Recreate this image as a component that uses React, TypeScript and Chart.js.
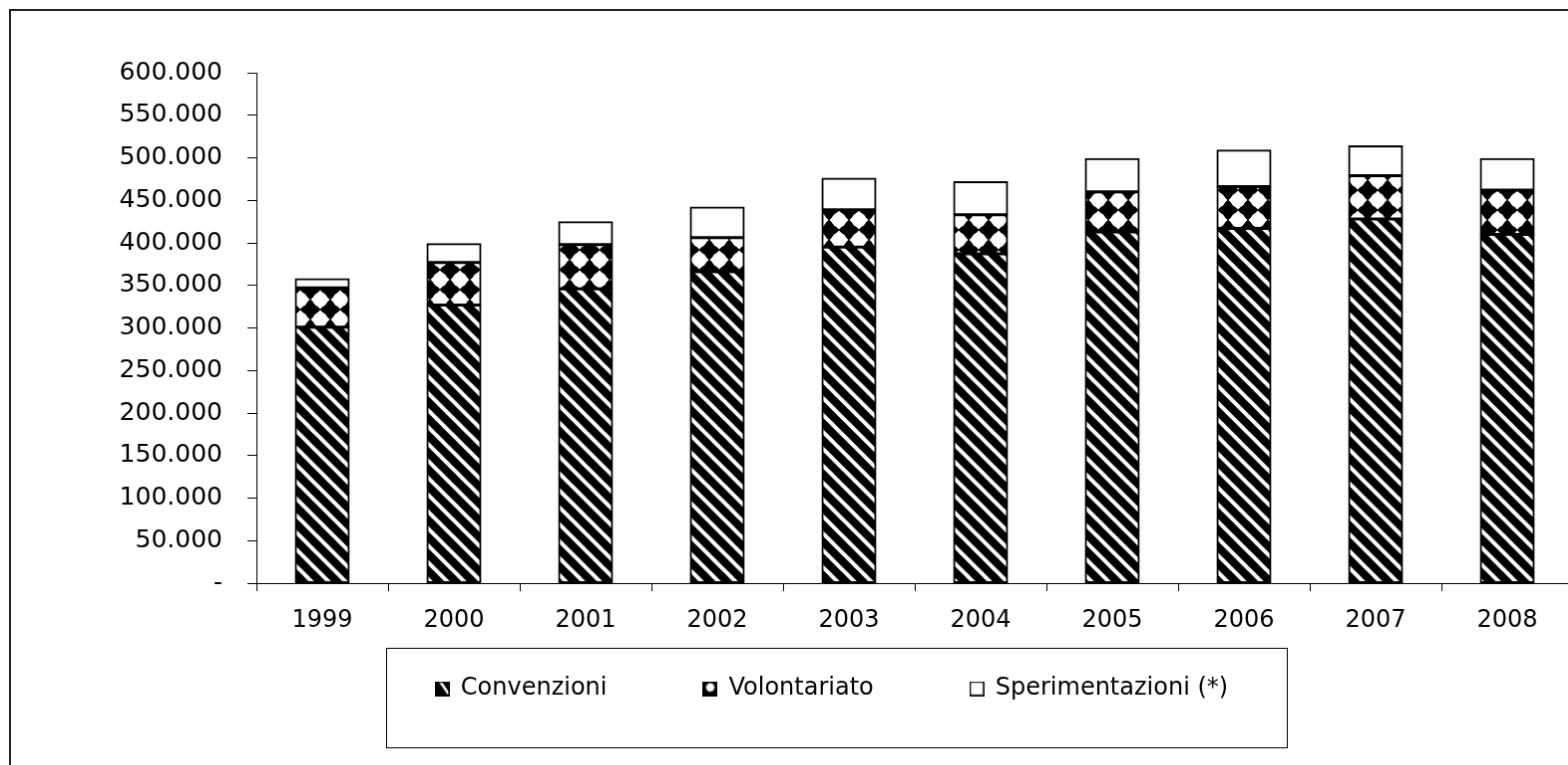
import React, { useEffect, useRef } from "react";
import { Chart, registerables } from "chart.js";

Chart.register(...registerables);

const years = ["1999", "2000", "2001", "2002", "2003", "2004", "2005", "2006", "2007", "2008"];
const convenzioni = [301000, 327000, 346000, 366000, 395000, 387000, 413000, 417000, 428000, 410000];
const volontariato = [46000, 50000, 52000, 40000, 44000, 46000, 47000, 49000, 51000, 52000];
const sperimentazioni = [11000, 22000, 27000, 36000, 37000, 39000, 39000, 43000, 35000, 37000];
const seriesNames = ["Convenzioni", "Volontariato", "Sperimentazioni (*)"];
const yMax = 600000;
const yStep = 50000;

function fmt(v: number): string {
  if (v === 0) return "-";
  return String(v).replace(/\B(?=(\d{3})+(?!\d))/g, ".");
}

function stripePattern(ctx: CanvasRenderingContext2D) {
  const s = 17;
  const c = document.createElement("canvas");
  c.width = s;
  c.height = s;
  const g = c.getContext("2d")!;
  g.fillStyle = "#000";
  g.fillRect(0, 0, s, s);
  g.strokeStyle = "#fff";
  g.lineWidth = 4;
  for (let k = -1; k <= 1; k++) {
    g.beginPath();
    g.moveTo(-2, k * s - 2);
    g.lineTo(s + 2, s + k * s + 2);
    g.stroke();
  }
  return ctx.createPattern(c, "repeat")!;
}

function diamondPattern(ctx: CanvasRenderingContext2D) {
  const s = 20;
  const c = document.createElement("canvas");
  c.width = s;
  c.height = s;
  const g = c.getContext("2d")!;
  g.fillStyle = "#000";
  g.fillRect(0, 0, s, s);
  g.fillStyle = "#fff";
  const cx = s / 2;
  const cy = s / 2;
  g.beginPath();
  g.arc(cx, cy, 7.3, 0, Math.PI * 2);
  g.fill();
  const d = 9.5;
  g.beginPath();
  g.moveTo(cx, cy - d);
  g.lineTo(cx + d, cy);
  g.lineTo(cx, cy + d);
  g.lineTo(cx - d, cy);
  g.closePath();
  g.fill();
  return ctx.createPattern(c, "repeat")!;
}

function makeSwatch(kind: number): HTMLCanvasElement {
  const n = 15;
  const c = document.createElement("canvas");
  c.width = n;
  c.height = n;
  const g = c.getContext("2d")!;
  if (kind === 0) {
    g.fillStyle = "#000";
    g.fillRect(0, 0, n, n);
    g.strokeStyle = "#fff";
    g.lineWidth = 2.5;
    g.beginPath();
    g.moveTo(5, 0);
    g.lineTo(14, 13);
    g.stroke();
  } else if (kind === 1) {
    g.fillStyle = "#000";
    g.fillRect(0, 0, n, n);
    g.fillStyle = "#fff";
    g.beginPath();
    g.arc(7.5, 6.3, 4.2, 0, Math.PI * 2);
    g.fill();
  } else {
    g.fillStyle = "#fff";
    g.fillRect(0, 0, n, n);
  }
  g.strokeStyle = "#000";
  g.lineWidth = 1.5;
  g.strokeRect(0.75, 0.75, n - 1.5, n - 1.5);
  return c;
}

const LEGEND_PAD = 97;
const LEGEND_FONT = 24;
const ITEM_CENTER = 681;
const BOX_TOP = 640;

const legendFramePlugin = {
  id: "legendFrame",
  afterLayout(chart: any) {
    const lg = chart.legend;
    if (!lg) return;
    const itemH = LEGEND_FONT;
    const newTop = ITEM_CENTER - LEGEND_PAD - itemH / 2;
    const h = lg.bottom - lg.top;
    lg.top = newTop;
    lg.bottom = newTop + h;
  },
  afterDraw(chart: any) {
    const ctx = chart.ctx;
    ctx.save();
    ctx.strokeStyle = "#000";
    ctx.lineWidth = 1;
    ctx.strokeRect(376.5, BOX_TOP + 0.5, 903, 100);
    ctx.restore();
  },
};

export default function App() {
  const ref = useRef<HTMLCanvasElement>(null);

  useEffect(() => {
    const canvas = ref.current!;
    const ctx = canvas.getContext("2d")!;
    Chart.defaults.font.family = "'DejaVu Sans', Verdana, sans-serif";
    Chart.defaults.color = "#000";
    const swatches = [makeSwatch(0), makeSwatch(1), makeSwatch(2)];
    const defaultGen = (Chart.defaults as any).plugins.legend.labels.generateLabels;

    const chart = new Chart(ctx, {
      type: "bar",
      data: {
        labels: years,
        datasets: [
          {
            label: seriesNames[0],
            data: convenzioni,
            backgroundColor: stripePattern(ctx),
            borderColor: "#000",
            borderWidth: 2,
            borderSkipped: false,
            inflateAmount: 0.5,
          },
          {
            label: seriesNames[1],
            data: volontariato,
            backgroundColor: diamondPattern(ctx),
            borderColor: "#000",
            borderWidth: 2,
            borderSkipped: false,
            inflateAmount: 0.5,
          },
          {
            label: seriesNames[2],
            data: sperimentazioni,
            backgroundColor: "#fff",
            borderColor: "#000",
            borderWidth: 2,
            borderSkipped: false,
            inflateAmount: 0.5,
          },
        ],
      },
      options: {
        responsive: false,
        animation: false,
        devicePixelRatio: 1,
        layout: { padding: { top: 62, left: 80, right: 34, bottom: 0 } },
        datasets: {
          bar: { barPercentage: 0.41, categoryPercentage: 1 },
        },
        scales: {
          x: {
            stacked: true,
            afterFit: (s: any) => {
              s.height = 94;
            },
            grid: {
              offset: true,
              drawOnChartArea: false,
              drawTicks: true,
              tickLength: 8,
              color: "#000",
            },
            border: { display: true, color: "#000", width: 1 },
            ticks: { font: { size: 24 }, color: "#000", padding: 15 },
          },
          y: {
            stacked: true,
            min: 0,
            max: yMax,
            afterFit: (s: any) => {
              s.width = 166;
            },
            grid: {
              drawOnChartArea: false,
              drawTicks: true,
              tickLength: 9,
              color: "#000",
            },
            border: { display: true, color: "#000", width: 1 },
            ticks: {
              stepSize: yStep,
              font: { size: 25 },
              color: "#000",
              padding: 25,
              callback: (v: any) => fmt(Number(v)),
            },
          },
        },
        plugins: {
          legend: {
            position: "bottom",
            labels: {
              boxWidth: 13,
              boxHeight: 13,
              usePointStyle: true,
              padding: LEGEND_PAD,
              font: { size: LEGEND_FONT, lineHeight: 1 },
              color: "#000",
              generateLabels: (ch: any) => {
                const items = defaultGen(ch);
                items.forEach((it: any, i: number) => {
                  it.pointStyle = swatches[i % swatches.length];
                });
                return items;
              },
            },
          },
          tooltip: { enabled: false },
          title: { display: false },
        },
      },
      plugins: [legendFramePlugin],
    });
    return () => chart.destroy();
  }, []);

  return (
    <div style={{ position: "fixed", left: 0, top: 0, width: 1568, height: 765, overflow: "hidden", background: "#fff" }}>
      <canvas
        ref={ref}
        width={1600}
        height={800}
        style={{ position: "absolute", left: 9, top: 9, border: "2px solid #222", width: 1600, height: 800 }}
      />
    </div>
  );
}
